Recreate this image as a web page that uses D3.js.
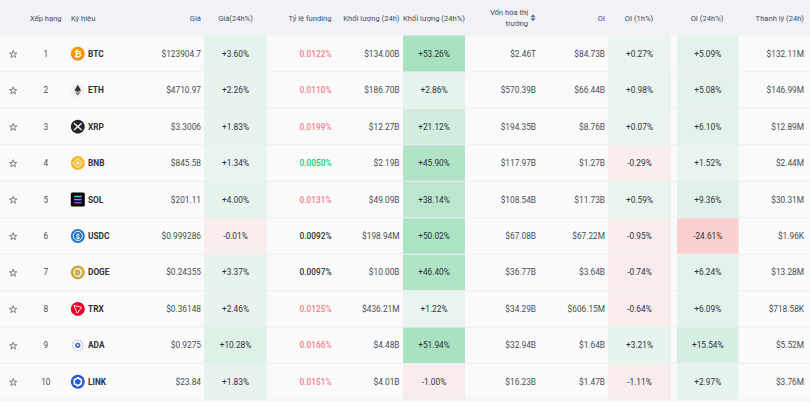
<!DOCTYPE html>
<html>
<head>
<meta charset="utf-8">
<script src="https://cdn.jsdelivr.net/npm/d3@7"></script>
<style>
    html, body { margin: 0; padding: 0; background: #fafafa; overflow: hidden; }
    text { font-family: Roboto, sans-serif; }
</style>
</head>
<body>
<div id="table"></div>
<script>
var ranks = [1, 2, 3, 4, 5, 6, 7, 8, 9, 10];
var symbols = ["BTC", "ETH", "XRP", "BNB", "SOL", "USDC", "DOGE", "TRX", "ADA", "LINK"];
var prices = ["$123904.7", "$4710.97", "$3.3006", "$845.58", "$201.11", "$0.999286", "$0.24355", "$0.36148", "$0.9275", "$23.84"];
var priceChange = [3.60, 2.26, 1.83, 1.34, 4.00, -0.01, 3.37, 2.46, 10.28, 1.83];
var funding = [0.0122, 0.0110, 0.0199, 0.0050, 0.0131, 0.0092, 0.0097, 0.0125, 0.0166, 0.0151];
var volume = ["$134.00B", "$186.70B", "$12.27B", "$2.19B", "$49.09B", "$198.94M", "$10.00B", "$436.21M", "$4.48B", "$4.01B"];
var volumeChange = [53.26, 2.86, 21.12, 45.90, 38.14, 50.02, 46.40, 1.22, 51.94, -1.00];
var marketCap = ["$2.46T", "$570.39B", "$194.35B", "$117.97B", "$108.54B", "$67.08B", "$36.77B", "$34.29B", "$32.94B", "$16.23B"];
var openInterest = ["$84.73B", "$66.44B", "$8.76B", "$1.27B", "$11.73B", "$67.22M", "$3.64B", "$606.15M", "$1.64B", "$1.47B"];
var oi1h = [0.27, 0.98, 0.07, -0.29, 0.59, -0.95, -0.74, -0.64, 3.21, -1.11];
var oi24h = [5.09, 5.08, 6.10, 1.52, 9.36, -24.61, 6.24, 6.09, 15.54, 2.97];
var liquidation = ["$132.11M", "$146.99M", "$12.89M", "$2.44M", "$30.31M", "$1.96K", "$13.28M", "$718.58K", "$5.52M", "$3.76M"];

var width = 810;
var height = 402;
var headerHeight = 35.5;
var rowHeight = 36.45;
var bodySize = 8.3;
var headSize = 7.6;
var textDark = "#2b3139";
var textGrey = "#474d57";

var svg = d3.select("#table")
    .append("svg")
    .attr("width", width)
    .attr("height", height)
    .style("display", "block");

var yScale = d3.scaleBand()
    .domain(ranks)
    .range([headerHeight, headerHeight + rowHeight * ranks.length]);

var heatColor = d3.scaleLinear()
    .domain([-25, -0.001, 0.001, 53.26])
    .range(["#fbd0d0", "#f9eded", "#ebf4f0", "#a8e2c0"]);

function signed(v) {
    return (v > 0 ? "+" : "") + v.toFixed(2) + "%";
}

function fundingColor(v) {
    if (v >= 0.0100) return "#f6808a";
    if (v < 0.0075) return "#0ecb81";
    return textDark;
}

function midY(i) {
    return yScale(ranks[i]) + yScale.bandwidth() / 2;
}

// header band
svg.append("rect")
    .attr("width", width)
    .attr("height", headerHeight)
    .attr("fill", "#f0f2f6");

var headers = [
    { label: "Xếp hạng", x: 45.8, anchor: "middle" },
    { label: "Ký hiệu", x: 71, anchor: "start" },
    { label: "Giá", x: 201, anchor: "end" },
    { label: "Giá(24h%)", x: 235.5, anchor: "middle" },
    { label: "Tỷ lệ funding", x: 331.5, anchor: "end" },
    { label: "Khối lượng (24h)", x: 399.5, anchor: "end" },
    { label: "Khối lượng (24h%)", x: 434, anchor: "middle" },
    { label: "OI", x: 605, anchor: "end" },
    { label: "OI (1h%)", x: 639, anchor: "middle" },
    { label: "OI (24h%)", x: 707, anchor: "middle" },
    { label: "Thanh lý (24h)", x: 804, anchor: "end" }
];

svg.append("g").selectAll("text")
    .data(headers)
    .enter()
    .append("text")
    .attr("x", d => d.x)
    .attr("y", 20.7)
    .attr("text-anchor", d => d.anchor)
    .attr("font-size", headSize)
    .attr("fill", textGrey)
    .text(d => d.label);

svg.append("text").attr("x", 528).attr("y", 14.5).attr("text-anchor", "end")
    .attr("font-size", headSize).attr("fill", textGrey).text("Vốn hóa thị");
svg.append("text").attr("x", 528).attr("y", 26).attr("text-anchor", "end")
    .attr("font-size", headSize).attr("fill", textGrey).text("trường");
svg.append("path").attr("d", "M530.5 17.2L533 14.2L535.5 17.2Z").attr("fill", "#5e6673");
svg.append("path").attr("d", "M530.5 18.2L533 21.2L535.5 18.2Z").attr("fill", "#2f6fd0");

// heat cells
var heatColumns = [
    { values: priceChange, x0: 204, x1: 267 },
    { values: volumeChange, x0: 403, x1: 465 },
    { values: oi1h, x0: 608, x1: 671 },
    { values: oi24h, x0: 677, x1: 738.5 }
];

heatColumns.forEach(function(col) {
    svg.append("g").selectAll("rect")
        .data(col.values)
        .enter()
        .append("rect")
        .attr("x", col.x0)
        .attr("y", (d, i) => yScale(ranks[i]))
        .attr("width", col.x1 - col.x0)
        .attr("height", yScale.bandwidth())
        .attr("fill", d => heatColor(d));

    svg.append("g").selectAll("text")
        .data(col.values)
        .enter()
        .append("text")
        .attr("x", (col.x0 + col.x1) / 2)
        .attr("y", (d, i) => midY(i) + 3)
        .attr("text-anchor", "middle")
        .attr("font-size", bodySize)
        .attr("fill", textDark)
        .text(d => signed(d));
});

svg.append("g").selectAll("line")
    .data(ranks)
    .enter()
    .append("line")
    .attr("x1", 0)
    .attr("x2", width)
    .attr("y1", d => yScale(d) + yScale.bandwidth())
    .attr("y2", d => yScale(d) + yScale.bandwidth())
    .attr("stroke", "#eceef0")
    .attr("stroke-width", 1);

function textColumn(values, x, anchor, color, weight) {
    svg.append("g").selectAll("text")
        .data(values)
        .enter()
        .append("text")
        .attr("x", x)
        .attr("y", (d, i) => midY(i) + 3)
        .attr("text-anchor", anchor)
        .attr("font-size", bodySize)
        .attr("font-weight", weight || 400)
        .attr("fill", color)
        .text(d => d);
}

textColumn(ranks, 45.8, "middle", textGrey);
textColumn(symbols, 88, "start", textDark, 700);
textColumn(prices, 201, "end", textGrey);
textColumn(volume, 399.5, "end", textGrey);
textColumn(marketCap, 536, "end", textGrey);
textColumn(openInterest, 605, "end", textGrey);
textColumn(liquidation, 804, "end", textGrey);

svg.append("g").selectAll("text")
    .data(funding)
    .enter()
    .append("text")
    .attr("x", 331.5)
    .attr("y", (d, i) => midY(i) + 3)
    .attr("text-anchor", "end")
    .attr("font-size", bodySize)
    .attr("font-weight", 500)
    .attr("fill", fundingColor)
    .text(d => d.toFixed(4) + "%");

// favourite stars
var star = d3.symbol().type(d3.symbolStar).size(17);
svg.append("g").selectAll("path")
    .data(ranks)
    .enter()
    .append("path")
    .attr("d", star)
    .attr("transform", d => `translate(13.2, ${yScale(d) + yScale.bandwidth() / 2 + 0.6})`)
    .attr("fill", "none")
    .attr("stroke", "#5e6673")
    .attr("stroke-width", 0.8);

// coin icons
var iconDrawers = {
    BTC: function(g) {
        g.append("circle").attr("r", 7).attr("fill", "#f7931a");
        g.append("text").attr("y", 3.2).attr("text-anchor", "middle").attr("font-size", 9).attr("font-weight", 700).attr("fill", "#fff").text("₿");
    },
    ETH: function(g) {
        g.append("circle").attr("r", 7).attr("fill", "#f0f1f3");
        g.append("path").attr("d", "M0 -5.5L3.2 0L0 1.9L-3.2 0Z").attr("fill", "#343434");
        g.append("path").attr("d", "M0 2.8L3.2 0.9L0 5.5L-3.2 0.9Z").attr("fill", "#6b6b6b");
    },
    XRP: function(g) {
        g.append("circle").attr("r", 7).attr("fill", "#23292f");
        g.append("path").attr("d", "M-3.8 -3.4L3.8 3.4M-3.8 3.4L3.8 -3.4")
            .attr("fill", "none").attr("stroke", "#fff").attr("stroke-width", 1.2);
    },
    BNB: function(g) {
        g.append("circle").attr("r", 7).attr("fill", "#f3ba2f");
        g.append("path").attr("d", "M-4.6 0L0 -4.6L4.6 0L0 4.6Z").attr("fill", "none").attr("stroke", "#fff").attr("stroke-width", 1);
        g.append("path").attr("d", "M-1.8 0L0 -1.8L1.8 0L0 1.8Z").attr("fill", "#fff");
    },
    SOL: function(g) {
        g.append("rect").attr("x", -7).attr("y", -7).attr("width", 14).attr("height", 14).attr("rx", 1.5).attr("fill", "#05060a");
        g.append("rect").attr("x", -3.8).attr("y", -3.8).attr("width", 7.6).attr("height", 1.5).attr("fill", "#2fd9c4");
        g.append("rect").attr("x", -3.8).attr("y", -0.7).attr("width", 7.6).attr("height", 1.5).attr("fill", "#6f8ff0");
        g.append("rect").attr("x", -3.8).attr("y", 2.4).attr("width", 7.6).attr("height", 1.5).attr("fill", "#a845ee");
    },
    USDC: function(g) {
        g.append("circle").attr("r", 7).attr("fill", "#2775ca");
        g.append("circle").attr("r", 4.6).attr("fill", "none").attr("stroke", "#fff").attr("stroke-width", 0.9);
        g.append("text").attr("y", 2.6).attr("text-anchor", "middle").attr("font-size", 7).attr("font-weight", 700).attr("fill", "#fff").text("$");
    },
    DOGE: function(g) {
        g.append("circle").attr("r", 7).attr("fill", "#c9a93f");
        g.append("circle").attr("r", 4.6).attr("fill", "#efe3b8");
        g.append("text").attr("y", 2.7).attr("text-anchor", "middle").attr("font-size", 7.5).attr("font-weight", 700).attr("fill", "#9a7f2a").text("D");
    },
    TRX: function(g) {
        g.append("circle").attr("r", 7).attr("fill", "#eb0029");
        g.append("path").attr("d", "M-3.8 -3.4L3.9 -1.6L-0.6 4.4Z").attr("fill", "none").attr("stroke", "#fff").attr("stroke-width", 0.9);
    },
    ADA: function(g) {
        g.append("circle").attr("r", 2.6).attr("fill", "#3f63c8");
        g.append("circle").attr("r", 1).attr("fill", "#fff");
        d3.range(12).forEach(function(i) {
            var a = i * Math.PI / 6;
            g.append("circle").attr("cx", 5.2 * Math.cos(a)).attr("cy", 5.2 * Math.sin(a)).attr("r", 0.7).attr("fill", "#8ea4e0");
        });
    },
    LINK: function(g) {
        g.append("circle").attr("r", 7).attr("fill", "#2a5ada");
        g.append("path").attr("d", "M0 -4L3.5 -2V2L0 4L-3.5 2V-2Z").attr("fill", "none").attr("stroke", "#fff").attr("stroke-width", 1.5);
    }
};

symbols.forEach(function(sym, i) {
    var g = svg.append("g")
        .attr("transform", `translate(77.8, ${midY(i)})`);
    iconDrawers[sym](g);
});
</script>
</body>
</html>
